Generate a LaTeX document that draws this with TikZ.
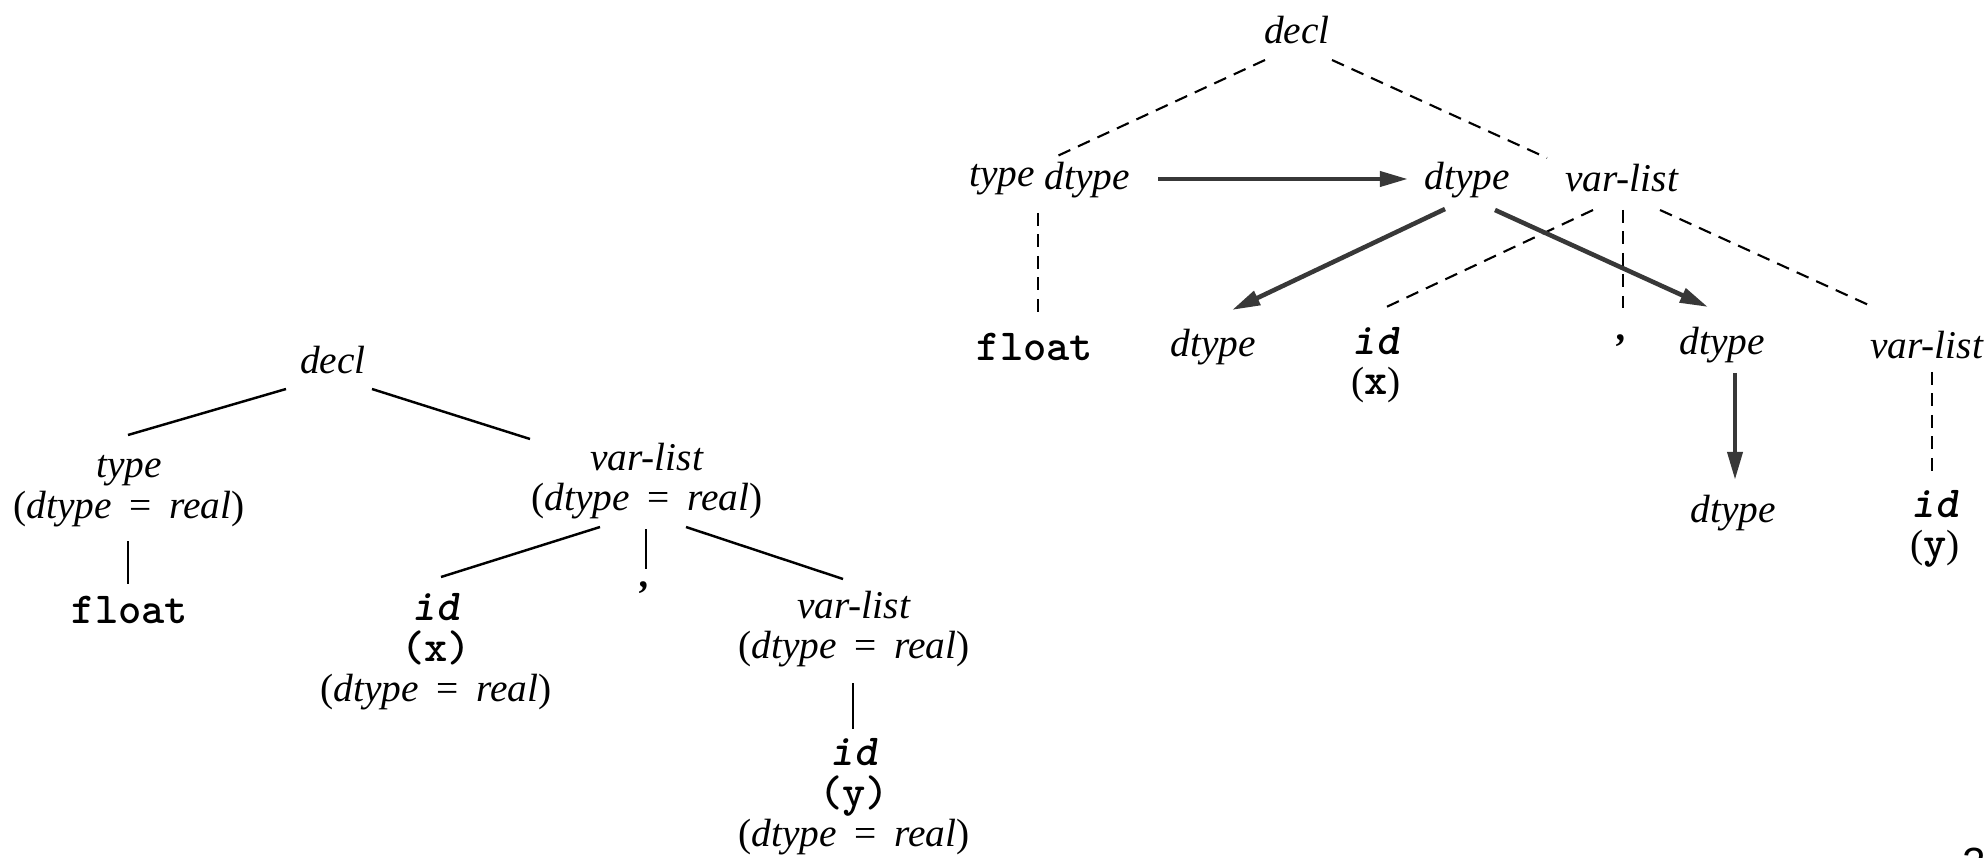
\documentclass[tikz,border=0pt]{standalone}
\usepackage{fontspec}
\setmainfont{Liberation Serif}
\newfontfamily\pagefont{Liberation Sans}
\usetikzlibrary{arrows.meta,calc}
\newcommand{\dtreal}{(\textit{dtype}\hspace{.45em}=\hspace{.45em}\textit{real})}
\newcommand{\tok}[1]{{\ttfamily\bfseries\fontsize{12.6}{11.5}\selectfont #1}}
\newcommand{\tokid}{{\ttfamily\bfseries\itshape\fontsize{12.6}{11.5}\selectfont id}}

\begin{document}
\begin{tikzpicture}[x=0.01cm,y=-0.01cm]
  \tikzstyle{lab}=[inner sep=0pt, align=center, font=\fontsize{11.2}{11.5}\selectfont]
  \tikzstyle{tree}=[line width=0.7pt]
  \tikzstyle{dep}=[line width=0.6pt, dash pattern=on 3.7pt off 2.4pt]
  \tikzstyle{flow}=[line width=1.3pt, black!78, -{Triangle[length=8pt,width=4.2pt]}]

  \useasboundingbox (0,0) rectangle (1988,858);
  \clip (0,0) rectangle (1988,858);

  % annotated parse tree
  \node[lab] (ldecl) at (333,360) {\textit{decl}};
  \node[lab] (ltype) at (129,491) {\textit{type}\\\dtreal};
  \node[lab] (lfloat) at (130,610) {\tok{float}};
  \node[lab] (lvar) at (647,481) {\textit{var-list}\\\dtreal};
  \node[lab] (lid) at (436,652) {\tokid\\\tok{(x)}\\\dtreal};
  \node[lab] (lcomma) at (645,588) {\textbf{\textit{,}}};
  \node[lab] (lvar2) at (854,629) {\textit{var-list}\\\dtreal};
  \node[lab] (lid2) at (854,797) {\tokid\\\tok{(y)}\\\dtreal};

  \draw[tree] ($(ldecl)+(-47,29)$) -- ($(ltype)+(-1,-56)$);
  \draw[tree] ($(ldecl)+(39,29)$) -- ($(lvar)+(-117,-42)$);
  \draw[tree] ($(ltype)+(-1,50)$) -- ($(lfloat)+(-2,-26)$);
  \draw[tree] ($(lvar)+(-47,46)$) -- ($(lid)+(5,-75)$);
  \draw[tree] ($(lvar)+(-1,48)$) -- ($(lcomma)+(1,-19)$);
  \draw[tree] ($(lvar)+(39,46)$) -- ($(lvar2)+(-11,-50)$);
  \draw[tree] ($(lvar2)+(-1,54)$) -- ($(lid2)+(-1,-68)$);

  % dependency graph
  \node[lab] (rdecl) at (1297,30) {\textit{decl}};
  \node[lab] (rtype) at (1002,180) {\textit{type}};
  \node[lab] (rdt1) at (1087,180) {\textit{dtype}};
  \node[lab] (rdt2) at (1467,180) {\textit{dtype}};
  \node[lab] (rvar) at (1622,178) {\textit{var-list}};
  \node[lab] (rfloat) at (1035,347) {\tok{float}};
  \node[lab] (rdt3) at (1213,347) {\textit{dtype}};
  \node[lab] (rid) at (1376,365) {\tokid\\(\tok{x})};
  \node[lab] (rcomma) at (1622,341) {\textbf{\textit{,}}};
  \node[lab] (rdt4) at (1722,345) {\textit{dtype}};
  \node[lab] (rvar2) at (1927,345) {\textit{var-list}};
  \node[lab] (rdt5) at (1733,513) {\textit{dtype}};
  \node[lab] (rid2) at (1935,529) {\tokid\\(\tok{y})};

  \draw[dep] ($(rdecl)+(-32,30)$) -- ($(rtype)+(51,-22)$);
  \draw[dep] ($(rdecl)+(35,30)$) -- ($(rvar)+(-75,-20)$);
  \draw[dep] ($(rtype)+(36,33)$) -- ($(rfloat)+(3,-35)$);
  \draw[dep] ($(rvar)+(-29,32)$) -- ($(rid)+(4,-55)$);
  \draw[dep] ($(rvar)+(1,32)$) -- ($(rcomma)+(1,-33)$);
  \draw[dep] ($(rvar)+(38,32)$) -- ($(rvar2)+(-54,-38)$);
  \draw[dep] ($(rvar2)+(5,27)$) -- ($(rid2)+(-3,-52)$);

  \draw[flow] ($(rdt1)+(71,-1)$) -- ($(rdt2)+(-59,-1)$);
  \draw[flow] ($(rdt2)+(-22,29)$) -- ($(rdt3)+(19,-37)$);
  \draw[flow] ($(rdt2)+(28,30)$) -- ($(rdt4)+(-14,-38)$);
  \draw[flow] ($(rdt4)+(13,28)$) -- ($(rdt5)+(2,-33)$);

  \node[anchor=base west, inner sep=0pt, font=\pagefont\fontsize{12}{12}\selectfont] (page) at (1962,877) {21};
\end{tikzpicture}
\end{document}
